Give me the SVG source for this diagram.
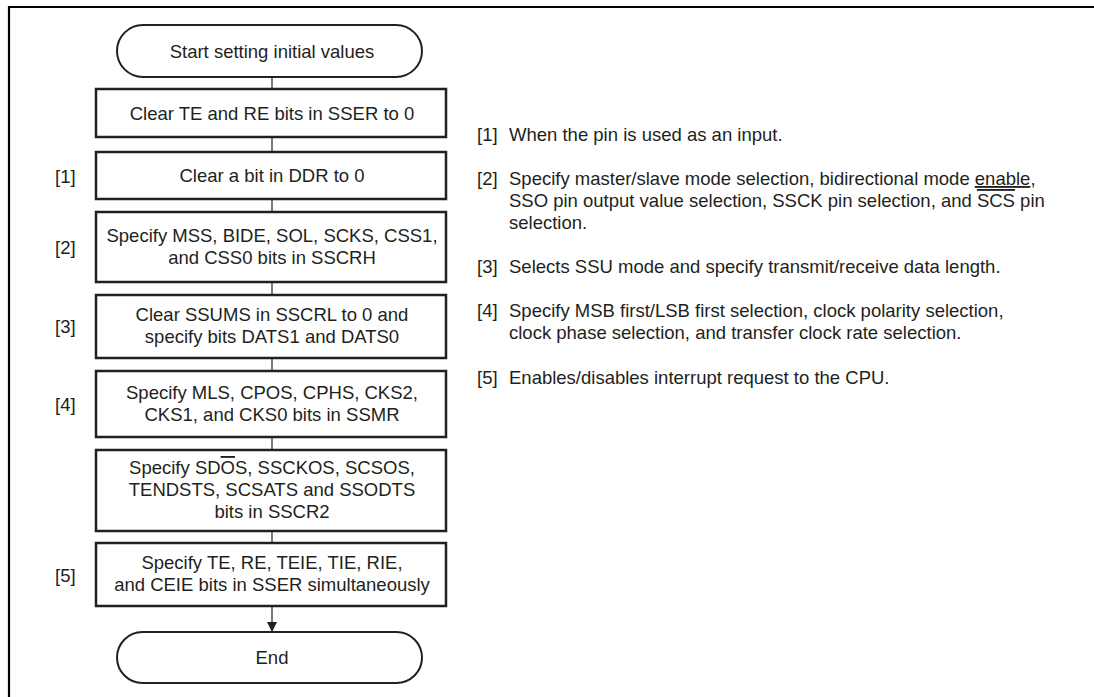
<svg xmlns="http://www.w3.org/2000/svg" width="1094" height="697" viewBox="0 0 1094 697">
<defs>
<style>
.t{font-family:"Liberation Sans",Arial,sans-serif;font-size:18.5px;fill:#231f20}
.c{text-anchor:middle}
.box{fill:#fff;stroke:#231f20;stroke-width:2.5}
.term{fill:#fff;stroke:#231f20;stroke-width:2}
.ln{stroke:#231f20;stroke-width:1.2;fill:none}
</style>
<marker id="ah" viewBox="0 0 10 10" refX="10" refY="5" markerWidth="10" markerHeight="12" markerUnits="userSpaceOnUse" orient="auto">
<path d="M0,0 L10,5 L0,10 z" fill="#231f20"/>
</marker>
</defs>
<rect width="1094" height="697" fill="#fff"/>
<path d="M9,697 V7 H1094" fill="none" stroke="#000" stroke-width="2.2"/>

<g id="connectors">
<line class="ln" x1="272" y1="77" x2="272" y2="89"/>
<line class="ln" x1="272" y1="137" x2="272" y2="152"/>
<line class="ln" x1="272" y1="199" x2="272" y2="212"/>
<line class="ln" x1="272" y1="282" x2="272" y2="295"/>
<line class="ln" x1="272" y1="358" x2="272" y2="371"/>
<line class="ln" x1="272" y1="437" x2="272" y2="450"/>
<line class="ln" x1="272" y1="531" x2="272" y2="543"/>
<line class="ln" x1="272" y1="606" x2="272" y2="632" marker-end="url(#ah)"/>
</g>

<g id="start">
<rect class="term" x="117" y="25" width="305" height="52" rx="26" ry="26"/>
<text class="t c" x="272" y="58">Start setting initial values</text>
</g>

<g id="step0">
<rect class="box" x="96" y="89" width="350" height="48"/>
<text class="t c" x="272" y="120">Clear TE and RE bits in SSER to 0</text>
</g>

<g id="step1">
<text class="t" x="55" y="183">[1]</text>
<rect class="box" x="96" y="152" width="350" height="47"/>
<text class="t c" x="272" y="182">Clear a bit in DDR to 0</text>
</g>

<g id="step2">
<text class="t" x="55" y="254">[2]</text>
<rect class="box" x="96" y="212" width="350" height="70"/>
<text class="t c" x="272" y="242">Specify MSS, BIDE, SOL, SCKS, CSS1,</text>
<text class="t c" x="272" y="264">and CSS0 bits in SSCRH</text>
</g>

<g id="step3">
<text class="t" x="55" y="333">[3]</text>
<rect class="box" x="96" y="295" width="350" height="63"/>
<text class="t c" x="272" y="321">Clear SSUMS in SSCRL to 0 and</text>
<text class="t c" x="272" y="343">specify bits DATS1 and DATS0</text>
</g>

<g id="step4">
<text class="t" x="55" y="411">[4]</text>
<rect class="box" x="96" y="371" width="350" height="66"/>
<text class="t c" x="272" y="399">Specify MLS, CPOS, CPHS, CKS2,</text>
<text class="t c" x="272" y="421">CKS1, and CKS0 bits in SSMR</text>
</g>

<g id="step5">
<rect class="box" x="96" y="450" width="350" height="81"/>
<text class="t c" x="272" y="474">Specify SD<tspan style="text-decoration:overline">O</tspan>S, SSCKOS, SCSOS,</text>
<text class="t c" x="272" y="496">TENDSTS, SCSATS and SSODTS</text>
<text class="t c" x="272" y="518">bits in SSCR2</text>
</g>

<g id="step6">
<text class="t" x="55" y="582">[5]</text>
<rect class="box" x="96" y="543" width="350" height="63"/>
<text class="t c" x="272" y="569">Specify TE, RE, TEIE, TIE, RIE,</text>
<text class="t c" x="272" y="591">and CEIE bits in SSER simultaneously</text>
</g>

<g id="end">
<rect class="term" x="117" y="632" width="305" height="51" rx="25.5" ry="25.5"/>
<text class="t c" x="272" y="664">End</text>
</g>

<g id="notes">
<text class="t" x="477" y="141">[1]</text>
<text class="t" x="509" y="141">When the pin is used as an input.</text>
<text class="t" x="477" y="185">[2]</text>
<text class="t" x="509" y="185">Specify master/slave mode selection, bidirectional mode <tspan style="text-decoration:underline">enable</tspan>,</text>
<text class="t" x="509" y="207">SSO pin output value selection, SSCK pin selection, and <tspan style="text-decoration:overline">SCS</tspan> pin</text>
<text class="t" x="509" y="229">selection.</text>
<text class="t" x="477" y="273">[3]</text>
<text class="t" x="509" y="273">Selects SSU mode and specify transmit/receive data length.</text>
<text class="t" x="477" y="317">[4]</text>
<text class="t" x="509" y="317">Specify MSB first/LSB first selection, clock polarity selection,</text>
<text class="t" x="509" y="339">clock phase selection, and transfer clock rate selection.</text>
<text class="t" x="477" y="384">[5]</text>
<text class="t" x="509" y="384">Enables/disables interrupt request to the CPU.</text>
</g>
</svg>
